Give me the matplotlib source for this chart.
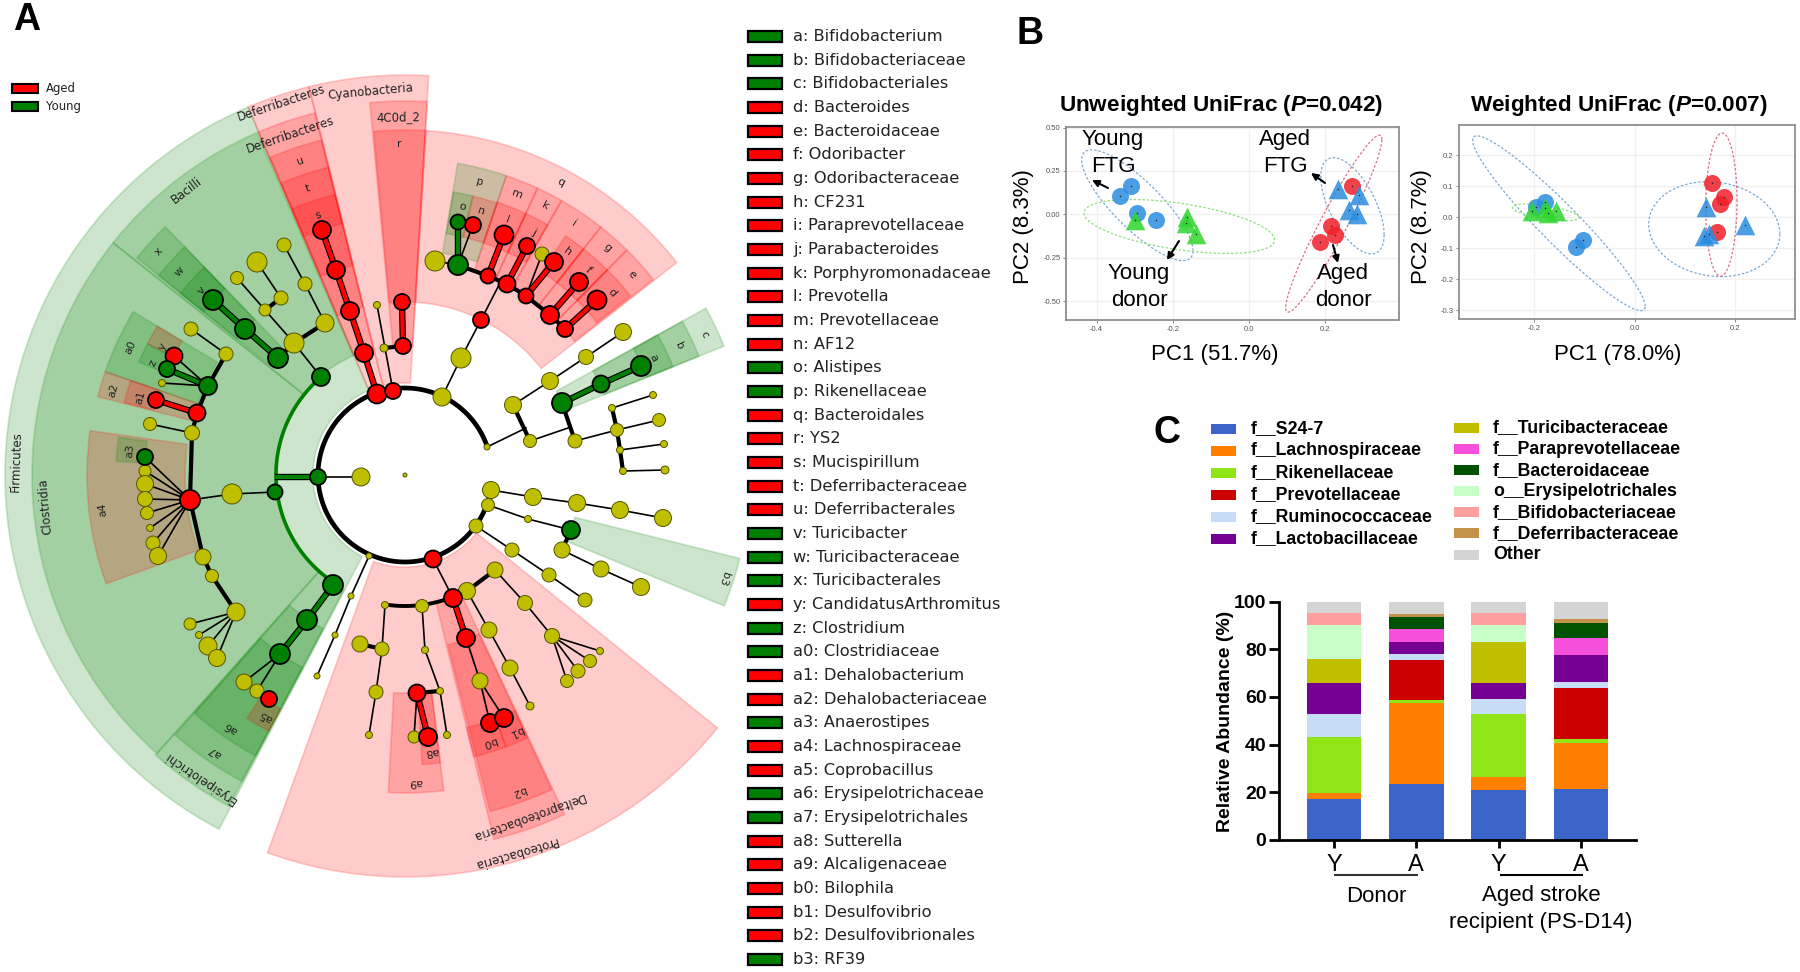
import matplotlib
matplotlib.use('Agg')
import matplotlib.pyplot as plt
import numpy as np
from matplotlib.colors import to_rgba
from matplotlib.patches import Circle, Rectangle, Wedge

W, H = 1800, 972
plt.rcParams['font.family'] = ['Liberation Sans', 'DejaVu Sans']
plt.rcParams['mathtext.fontset'] = 'custom'
plt.rcParams['mathtext.bfit'] = 'Liberation Sans:italic:bold'
plt.rcParams['mathtext.rm'] = 'Liberation Sans:bold'

# --- panel A: cladogram, pixel positions ---
CLADE_X, CLADE_Y = 405, 475
RED, GREEN, YELLOW = '#ff0000', '#008000', '#bfbf00'

# (inner r, outer r, start angle, end angle, colour)
sectors = [
    (92, 400, 113.1, 242.3, 'g'), (92, 400, 103.9, 113.1, 'r'), (92, 400, 86.6, 103.9, 'r'),
    (92, 402, 250, 321, 'r'), (173, 345, 38, 86.5, 'r'), (175, 345, -22.3, -14, 'g'),
    (173, 344, 22, 29, 'g'), (215, 317, 22, 29, 'g'), (261, 289, 22, 29, 'g'),
    (130, 373, 113.4, 141.5, 'g'), (130, 373, 141.5, 228.3, 'g'), (130, 375, 228.3, 242, 'g'),
    (174, 347, 228.5, 242, 'g'), (218, 318, 228.5, 242, 'g'), (265, 290, 237, 242, 'r'),
    (130, 373, 104, 113.2, 'r'), (173, 345, 104, 113, 'r'), (216, 317, 104, 113, 'r'), (259, 289, 104, 113, 'r'),
    (129, 374, 86.6, 95.4, 'r'), (173, 345, 86.6, 95.2, 'r'),
    (225, 316, 71.3, 80.4, 'g'), (245, 287, 76.3, 80.3, 'g'), (245, 287, 71.3, 76.3, 'r'),
    (216, 316, 65.2, 71.3, 'r'), (245, 288, 65.2, 71.3, 'r'), (216, 316, 60.3, 65.2, 'r'), (245, 288, 60.3, 65.2, 'r'),
    (216, 316, 51.7, 60.3, 'r'), (245, 288, 51.7, 56.1, 'r'), (216, 316, 45.4, 51.7, 'r'), (245, 288, 45.4, 51.7, 'r'),
    (216, 316, 38.2, 45.4, 'r'), (245, 288, 38.5, 45.4, 'r'),
    (130, 375, 283.7, 295.2, 'r'), (175, 347, 284.2, 295, 'r'), (260, 290, 283.7, 290.4, 'r'), (260, 290, 290.4, 295, 'r'),
    (218, 318, 267, 277, 'r'), (218, 290, 273.4, 277, 'r'),
    (173, 345, 134, 141, 'g'), (216, 317, 134, 141, 'g'), (259, 289, 134, 141, 'g'),
    (219, 317, 149, 161, 'g'), (260, 289, 149, 153, 'r'), (260, 289, 153, 157, 'g'),
    (219, 317, 161, 165.7, 'r'), (260, 290, 161, 165.5, 'r'),
    (220, 318, 172, 200, 'r'), (260, 289, 172.5, 177.3, 'g'),
]

# (text, r, angle, size)
clade_labels = [
    ('Firmicutes', 389, 178, 8.5), ('Clostridia', 361, 185, 8.5), ('Bacilli', 359, 127.5, 8.5),
    ('Deferribacteres', 392, 108.4, 8.5), ('Deferribacteres', 359, 108.7, 8.5),
    ('Cyanobacteria', 385, 95.2, 8.5), ('4C0d_2', 358, 91, 8.5), ('r', 331, 91, 8),
    ('u', 331, 108.5, 8), ('t', 303, 108.7, 8), ('s', 274, 108.5, 8), ('q', 331, 62, 8), ('p', 302, 75.6, 8),
    ('o', 274, 78, 8), ('n', 275, 74, 8), ('m', 302, 68.3, 8), ('k', 303, 62.5, 8), ('l', 275, 68, 8),
    ('j', 275, 62, 8), ('i', 303, 56, 8), ('h', 276, 54, 8), ('g', 304, 48.3, 8), ('f', 275, 48.2, 8),
    ('e', 303, 41.5, 8), ('d', 276, 41.3, 8), ('c', 331, 25.2, 8), ('b', 303, 25.2, 8), ('a', 275, 25.2, 8),
    ('x', 332, 137.8, 8), ('w', 304, 138, 8), ('v', 274, 137.8, 8), ('a0', 303, 155, 8), ('y', 274, 152, 8),
    ('z', 276, 156, 8), ('a2', 304, 163.8, 8), ('a1', 276, 163.8, 8), ('a3', 276, 175, 8), ('a4', 304, 186.4, 8),
    ('a5', 278, 240, 8), ('a6', 307, 235.5, 8), ('a7', 336, 235.5, 8), ('Erysipelotrichi', 366, 235.9, 8.5),
    ('a8', 278, 275.6, 8), ('a9', 307, 272, 8), ('b0', 280, 287.5, 8), ('b1', 279, 293.3, 8), ('b2', 336, 289.8, 8),
    ('Deltaproteobacteria', 363, 289.8, 8.5), ('Proteobacteria', 393, 286.3, 8.5), ('b3', 335, -18, 8),
]

yellow_nodes = [
    (405, 475, 2), (361, 477, 9), (384, 348, 4), (377, 305, 3.5), (294, 343, 10), (325, 323, 9), (265, 310, 6),
    (281, 298, 7), (237, 278, 6.5), (257, 262, 10), (305, 284, 7), (284, 245, 7), (191, 329, 7), (226, 354, 7),
    (162, 383, 3.5), (150, 424, 6.5), (192, 433, 7.5), (145, 471, 6), (145, 484, 8.5), (145, 499, 7.5),
    (147, 513, 6.5), (150, 528, 3.5), (153, 543, 7), (158, 556, 8.5), (232, 494, 10), (203, 557, 8), (212, 576, 6.5),
    (236, 612, 9), (190, 624, 6), (199, 635, 3.5), (208, 646, 9), (217, 658, 8.5), (435, 261, 10), (542, 254, 7),
    (461, 358, 10), (442, 397, 9), (623, 332, 8.5), (586, 357, 7.5), (550, 381, 8.5), (513, 405, 8.5), (487, 447, 3),
    (530, 441, 6.5), (575, 441, 7), (617, 430, 6.5), (659, 420, 6.5), (620, 450, 3.5), (664, 444, 3.5), (623, 471, 3.5),
    (665, 470, 4), (612, 408, 3.5), (653, 395, 3.5), (491, 490, 8.5), (533, 497, 8.5), (577, 503, 8.5), (620, 510, 8.5),
    (663, 518, 8.5), (488, 505, 6.5), (528, 519, 3.5), (562, 550, 8), (601, 569, 8), (641, 587, 8.5), (476, 526, 7),
    (512, 550, 7), (549, 575, 7), (585, 600, 7), (467, 591, 8.5), (495, 570, 8), (525, 603, 7.5), (552, 636, 7.5),
    (600, 651, 3.5), (590, 661, 6.5), (578, 671, 7), (567, 681, 6.5), (489, 630, 8), (510, 668, 8), (530, 706, 4),
    (480, 681, 8), (422, 606, 6.5), (385, 605, 3.5), (382, 649, 7), (360, 644, 8), (376, 692, 7), (369, 735, 3.5),
    (425, 650, 3.5), (440, 691, 3.5), (447, 735, 3.5), (414, 737, 6), (369, 556, 3), (351, 596, 3), (335, 635, 3),
    (317, 676, 3), (244, 682, 8), (257, 691, 7),
]
red_nodes = [
    (322, 230, 9), (336, 270, 9), (350, 311, 9), (364, 353, 9), (377, 394, 9.5), (393, 391, 8), (402, 302, 8),
    (403, 346, 8), (174, 356, 8.5), (156, 400, 8), (197, 413, 8.5), (190, 500, 10), (473, 225, 8), (488, 276, 7.5),
    (504, 235, 9.5), (507, 284, 8.5), (527, 246, 8), (526, 296, 7.5), (554, 262, 9), (550, 315, 9), (579, 282, 9),
    (565, 329, 8), (597, 300, 9.5), (481, 320, 8), (433, 559, 8.5), (453, 598, 9), (466, 638, 9), (490, 723, 9),
    (504, 718, 9), (417, 693, 8.5), (428, 737, 9), (269, 699, 8),
]
green_nodes = [
    (213, 300, 10), (245, 329, 10), (278, 358, 10), (321, 377, 9), (208, 386, 9), (167, 369, 8), (145, 457, 8),
    (275, 492, 7.5), (318, 477, 8), (458, 265, 10), (458, 222, 7.5), (562, 403, 10), (601, 384, 8.5), (641, 366, 10),
    (571, 530, 9), (333, 585, 10), (307, 620, 10), (280, 654, 10),
]

# (x1, y1, x2, y2)
thin_edges = [
    (321, 377, 294, 343), (294, 343, 265, 310), (265, 310, 237, 278), (281, 298, 257, 262), (325, 323, 305, 284),
    (305, 284, 284, 245), (226, 354, 191, 329), (150, 424, 192, 433), (208, 386, 174, 356), (208, 386, 162, 383),
    (190, 500, 145, 457), (190, 500, 145, 471), (190, 500, 145, 484), (190, 500, 145, 499), (190, 500, 147, 513),
    (190, 500, 150, 528), (190, 500, 153, 543), (190, 500, 158, 556), (236, 612, 190, 624), (236, 612, 199, 635),
    (236, 612, 208, 646), (236, 612, 217, 658), (190, 500, 232, 494), (232, 494, 275, 492), (318, 477, 361, 477),
    (442, 397, 461, 358), (461, 358, 481, 320), (481, 320, 500, 283), (435, 261, 458, 265), (458, 265, 473, 225),
    (526, 296, 542, 254), (487, 447, 526, 428), (530, 441, 571, 427), (575, 441, 617, 430), (612, 408, 653, 395),
    (617, 430, 659, 420), (620, 450, 664, 444), (623, 471, 665, 470), (513, 405, 550, 381), (550, 381, 586, 357),
    (586, 357, 623, 332), (491, 490, 533, 497), (533, 497, 577, 503), (577, 503, 620, 510), (620, 510, 663, 518),
    (488, 505, 528, 519), (528, 519, 571, 530), (562, 550, 601, 569), (601, 569, 641, 587), (476, 526, 512, 550),
    (512, 550, 549, 575), (549, 575, 585, 600), (433, 559, 453, 598), (466, 638, 480, 681), (480, 681, 490, 723),
    (480, 681, 504, 718), (495, 570, 525, 603), (525, 603, 552, 636), (552, 636, 600, 651), (552, 636, 590, 661),
    (552, 636, 578, 671), (552, 636, 567, 681), (467, 591, 489, 630), (489, 630, 510, 668), (510, 668, 530, 706),
    (422, 606, 425, 650), (425, 650, 440, 691), (440, 691, 447, 735), (417, 693, 414, 737), (385, 605, 382, 649),
    (382, 649, 376, 692), (376, 692, 369, 735), (369, 556, 351, 596), (351, 596, 335, 635), (335, 635, 317, 676),
    (280, 654, 244, 682), (280, 654, 257, 691), (393, 391, 377, 305),
]
thick_edges = [
    (294, 343, 325, 323), (265, 310, 281, 298), (208, 386, 226, 354), (197, 413, 208, 386), (192, 433, 197, 413),
    (192, 433, 190, 500), (190, 500, 203, 557), (203, 557, 212, 576), (212, 576, 236, 612), (458, 265, 488, 276),
    (488, 276, 507, 284), (507, 284, 526, 296), (526, 296, 550, 315), (550, 315, 565, 329), (513, 405, 530, 441),
    (562, 403, 575, 441), (612, 408, 617, 430), (617, 430, 620, 450), (620, 450, 623, 471), (571, 530, 562, 550),
    (453, 598, 467, 591), (467, 591, 495, 570), (417, 693, 440, 691), (382, 649, 360, 644), (384, 348, 403, 346),
    (278, 358, 294, 343),
]
red_edges = [
    (197, 413, 156, 400), (488, 276, 504, 235), (507, 284, 527, 246), (526, 296, 554, 262), (550, 315, 579, 282),
    (565, 329, 597, 300), (453, 598, 466, 638), (417, 693, 428, 737), (377, 394, 364, 353), (364, 353, 350, 311),
    (350, 311, 336, 270), (336, 270, 322, 230), (403, 346, 402, 302),
]
green_edges = [
    (208, 386, 167, 369), (275, 477, 318, 477), (458, 265, 458, 222), (562, 403, 601, 384), (601, 384, 641, 366),
    (333, 585, 307, 620), (307, 620, 280, 654), (278, 358, 245, 329), (245, 329, 213, 300),
]

taxa = ['a: Bifidobacterium', 'b: Bifidobacteriaceae', 'c: Bifidobacteriales', 'd: Bacteroides', 'e: Bacteroidaceae',
        'f: Odoribacter', 'g: Odoribacteraceae', 'h: CF231', 'i: Paraprevotellaceae', 'j: Parabacteroides',
        'k: Porphyromonadaceae', 'l: Prevotella', 'm: Prevotellaceae', 'n: AF12', 'o: Alistipes', 'p: Rikenellaceae',
        'q: Bacteroidales', 'r: YS2', 's: Mucispirillum', 't: Deferribacteraceae', 'u: Deferribacterales',
        'v: Turicibacter', 'w: Turicibacteraceae', 'x: Turicibacterales', 'y: CandidatusArthromitus', 'z: Clostridium',
        'a0: Clostridiaceae', 'a1: Dehalobacterium', 'a2: Dehalobacteriaceae', 'a3: Anaerostipes', 'a4: Lachnospiraceae',
        'a5: Coprobacillus', 'a6: Erysipelotrichaceae', 'a7: Erysipelotrichales', 'a8: Sutterella', 'a9: Alcaligenaceae',
        'b0: Bilophila', 'b1: Desulfovibrio', 'b2: Desulfovibrionales', 'b3: RF39']
taxa_groups = 'gggrrrrrrrrrrrggrrrrrgggrggrrgrrggrrrrrg'

# --- panel B: PCoA scores ---
uw_blue_circ = ([-0.309, -0.339, -0.293, -0.245], [0.162, 0.105, 0.011, -0.029])
uw_green_tri = ([-0.299, -0.163, -0.165, -0.138], [-0.032, -0.013, -0.05, -0.113])
uw_blue_tri = ([0.233, 0.287, 0.263, 0.284], [0.149, 0.111, 0.025, 0.002])
uw_red_circ = ([0.271, 0.214, 0.226, 0.186], [0.164, -0.067, -0.118, -0.156])
w_blue_circ = ([-0.178, -0.196, -0.102, -0.116], [0.051, 0.034, -0.073, -0.095])
w_green_tri = ([-0.204, -0.178, -0.171, -0.156], [0.022, 0.029, 0.013, 0.022])
w_blue_tri = ([0.142, 0.218, 0.148, 0.137], [0.032, -0.025, -0.054, -0.06])
w_red_circ = ([0.153, 0.178, 0.17, 0.163], [0.112, 0.065, 0.042, -0.048])
# centre x, half width, centre y, half height, correlation, colour key
uw_ellipses = [(-0.293, 0.146, 0.053, 0.319, -0.82, 'b'), (-0.183, 0.25, -0.069, 0.155, -0.5, 'g'),
               (0.271, 0.083, 0.05, 0.277, -0.6, 'b'), (0.222, 0.126, -0.053, 0.509, 0.95, 'r')]
w_ellipses = [(-0.15, 0.171, -0.019, 0.282, -0.95, 'b'), (-0.176, 0.066, 0.016, 0.027, -0.6, 'g'),
              (0.158, 0.13, -0.038, 0.153, -0.1, 'b'), (0.172, 0.031, 0.041, 0.231, 0.05, 'r')]

# --- panel C: stacked abundance ---
groups = ['Y', 'A', 'Y', 'A']
families = ['f__S24-7', 'f__Lachnospiraceae', 'f__Rikenellaceae', 'f__Prevotellaceae', 'f__Ruminococcaceae',
            'f__Lactobacillaceae', 'f__Turicibacteraceae', 'f__Paraprevotellaceae', 'f__Bacteroidaceae',
            'o__Erysipelotrichales', 'f__Bifidobacteriaceae', 'f__Deferribacteraceae', 'Other']
family_colors = ['#3b64c8', '#ff8000', '#8fe516', '#cc0000', '#c6dcf7', '#750091', '#bfbf00', '#f64fdc', '#005200',
                 '#c8ffc8', '#ff9e9e', '#c49347', '#d4d4d4']
abund_y1 = [17.3, 2.4, 23.4, 0, 9.8, 13.1, 10.1, 0, 0, 13.9, 5.4, 0, 4.7]
abund_a1 = [23.6, 33.8, 1.2, 16.7, 2.6, 5.0, 0, 5.4, 5.4, 0, 0, 1.3, 5.0]
abund_y2 = [20.8, 5.5, 26.6, 0, 6.3, 6.7, 17.3, 0, 0, 6.8, 5.2, 0, 4.8]
abund_a2 = [21.5, 19.0, 1.9, 21.2, 2.7, 11.1, 0, 7.4, 6.3, 0, 0, 1.5, 7.4]

fig = plt.figure(figsize=(W / 100, H / 100), dpi=100)


def px_axes(x0, y0, x1, y1, **kw):
    return fig.add_axes([x0 / W, 1 - y1 / H, (x1 - x0) / W, (y1 - y0) / H], **kw)


def fig_text(x, y, s, **kw):
    kw.setdefault('ha', 'center')
    kw.setdefault('va', 'center')
    fig.text(x / W, 1 - y / H, s, **kw)


canvas = px_axes(0, 0, W, H)
canvas.set_xlim(0, W)
canvas.set_ylim(0, H)
canvas.axis('off')


def flip(y):
    return H - y


def arc(r, a0, a1, color, lw):
    t = np.radians(np.linspace(a0, a1, 120))
    canvas.plot(CLADE_X + r * np.cos(t), flip(CLADE_Y) + r * np.sin(t), color=color, lw=lw,
                solid_capstyle='butt', zorder=3)


for r0, r1, a0, a1, key in sectors:
    c = RED if key == 'r' else GREEN
    canvas.add_patch(Wedge((CLADE_X, flip(CLADE_Y)), r1, a0, a1, width=r1 - r0,
                           facecolor=to_rgba(c, 0.2), edgecolor=to_rgba(c, 0.17), lw=1.3, zorder=1))

for text, r, ang, size in clade_labels:
    t = np.radians(ang)
    canvas.text(CLADE_X + r * np.cos(t), flip(CLADE_Y) + r * np.sin(t), text, rotation=ang - 90, rotation_mode='anchor',
                ha='center', va='center', fontsize=size, family='DejaVu Sans', color='#222222', zorder=2)

arc(87, 19, 350, 'black', 3.4)
arc(129, 130, 237, GREEN, 2.6)
arc(131, 261, 289, 'black', 2.8)

for x1, y1, x2, y2 in thin_edges:
    canvas.plot([x1, x2], [flip(y1), flip(y2)], color='black', lw=1.2, zorder=4)
for x1, y1, x2, y2 in thick_edges:
    canvas.plot([x1, x2], [flip(y1), flip(y2)], color='black', lw=3, zorder=4)
for edges, c in ((red_edges, RED), (green_edges, GREEN)):
    for x1, y1, x2, y2 in edges:
        canvas.plot([x1, x2], [flip(y1), flip(y2)], color='black', lw=4.6, zorder=4, solid_capstyle='butt')
        canvas.plot([x1, x2], [flip(y1), flip(y2)], color=c, lw=3, zorder=4.1, solid_capstyle='butt')

for nodes, c in ((yellow_nodes, YELLOW), (red_nodes, RED), (green_nodes, GREEN)):
    for x, y, r in nodes:
        lw = 1.3 if c != YELLOW else 0.7
        canvas.add_patch(Circle((x, flip(y)), r, facecolor=c, edgecolor='black' if c != YELLOW else '#555500',
                                lw=lw, zorder=5))

# class legend, top left
for y, c, name in ((88.5, RED, 'Aged'), (107, GREEN, 'Young')):
    canvas.add_patch(Rectangle((12, flip(y) - 4.5), 26, 9, facecolor=c, edgecolor='black', lw=1.5, zorder=5))
    canvas.text(46, flip(y), name, ha='left', va='center', fontsize=8.4, family='DejaVu Sans', color='#222222')

# taxa key
for i, (name, key) in enumerate(zip(taxa, taxa_groups)):
    y = 36.5 + i * 23.67
    canvas.add_patch(Rectangle((748, flip(y) - 5.5), 34, 11, facecolor=RED if key == 'r' else GREEN,
                               edgecolor='black', lw=1.6, zorder=5))
    canvas.text(793, flip(y), name, ha='left', va='center', fontsize=11.7, family='DejaVu Sans', color='#222222')

for x, y, s in ((27, 20, 'A'), (1030, 34, 'B'), (1167, 433, 'C')):
    fig_text(x, y, s, fontsize=27, fontweight='bold')

# --- panel B ---
PC_COLORS = {'b': '#2b8ce0', 'g': '#2fd62f', 'r': '#f0202a'}
ELLIPSE_COLORS = {'b': '#7fa8cf', 'g': '#8fdf7f', 'r': '#d9707f'}


def pcoa_panel(rect, xlim, ylim, xticks, yticks, yfmt, blue_c, green_t, blue_t, red_c, ellipses):
    ax = px_axes(*rect)
    ax.set_xlim(*xlim)
    ax.set_ylim(*ylim)
    ax.set_axisbelow(True)
    ax.set_xticks(xticks)
    ax.set_yticks(yticks)
    ax.set_xticklabels([f'{v:.1f}' for v in xticks])
    ax.set_yticklabels([yfmt.format(v) for v in yticks])
    ax.grid(True, color='#f0f0f0', lw=1.0)
    ax.tick_params(labelsize=5.5, colors='#555555', length=2, width=0.5, pad=2)
    for s in ax.spines.values():
        s.set_color('#909090')
        s.set_linewidth(1.3)
    t = np.linspace(0, 2 * np.pi, 120)
    for cx, rx, cy, ry, corr, key in ellipses:
        ax.plot(cx + rx * np.cos(t), cy + ry * np.cos(t - np.arccos(corr)), color=ELLIPSE_COLORS[key],
                lw=0.9, ls=(0, (2, 1.5)))
    ax.scatter(*blue_c, s=150, marker='o', color=PC_COLORS['b'], alpha=0.85, lw=0, zorder=4)
    ax.scatter(*red_c, s=150, marker='o', color=PC_COLORS['r'], alpha=0.85, lw=0, zorder=4)
    ax.scatter(*green_t, s=200, marker='^', color=PC_COLORS['g'], alpha=0.85, lw=0, zorder=4)
    ax.scatter(*blue_t, s=200, marker='^', color=PC_COLORS['b'], alpha=0.85, lw=0, zorder=4)
    for pts in (blue_c, red_c, green_t, blue_t):
        ax.scatter(*pts, s=1.2, color='#222222', lw=0, zorder=5)
    return ax


ax_uw = pcoa_panel((1066, 127, 1399, 320), (-0.48, 0.393), (-0.607, 0.503), [-0.4, -0.2, 0.0, 0.2],
                   [-0.5, -0.25, 0, 0.25, 0.5], '{:.2f}', uw_blue_circ, uw_green_tri, uw_blue_tri, uw_red_circ, uw_ellipses)
ax_w = pcoa_panel((1459, 125, 1795, 319), (-0.348, 0.318), (-0.328, 0.298), [-0.2, 0.0, 0.2],
                  [-0.3, -0.2, -0.1, 0, 0.1, 0.2], '{:.1f}', w_blue_circ, w_green_tri, w_blue_tri, w_red_circ, w_ellipses)

fig_text(1221, 106, r'Unweighted UniFrac ($\mathbfit{P}$=0.042)', fontsize=16.2, fontweight='bold')
fig_text(1619, 106, r'Weighted UniFrac ($\mathbfit{P}$=0.007)', fontsize=16.2, fontweight='bold')
fig_text(1215, 354, 'PC1 (51.7%)', fontsize=16)
fig_text(1618, 354, 'PC1 (78.0%)', fontsize=16)
fig_text(1023, 227, 'PC2 (8.3%)', fontsize=16, rotation=90)
fig_text(1421, 227, 'PC2 (8.7%)', fontsize=16, rotation=90)
for x, y, s in ((1113, 140, 'Young'), (1113, 166, 'FTG'), (1139, 274, 'Young'), (1139, 301, 'donor'),
                (1285, 140, 'Aged'), (1285, 166, 'FTG'), (1343, 274, 'Aged'), (1343, 301, 'donor')):
    fig_text(x, y, s, fontsize=16)
for x0, y0, x1, y1 in ((1108, 188, 1092, 180), (1179, 241, 1167, 260), (1325, 183, 1311, 173), (1333, 245, 1338, 263)):
    ax_uw.annotate('', xy=(x1 / W, 1 - y1 / H), xytext=(x0 / W, 1 - y0 / H), xycoords='figure fraction',
                   textcoords='figure fraction', arrowprops=dict(arrowstyle='-|>', color='black', lw=1.5, shrinkA=0, shrinkB=0),
                   zorder=6)

# --- panel C ---
ax_c = px_axes(1279, 601.6, 1636, 840)
ax_c.patch.set_alpha(0)
x_pos = np.arange(len(groups))
bottom = np.zeros(len(groups))
for i, color in enumerate(family_colors):
    vals = np.array([abund_y1[i], abund_a1[i], abund_y2[i], abund_a2[i]])
    ax_c.bar(x_pos, vals, 0.662, bottom=bottom, color=color)
    bottom += vals
ax_c.set_xlim(-0.668, 3.67)
ax_c.set_ylim(0, 100)
ax_c.set_yticks(range(0, 101, 20))
ax_c.set_xticks(x_pos)
ax_c.set_xticklabels(groups, fontsize=17)
ax_c.tick_params(axis='y', labelsize=14, width=2, length=7, pad=2)
ax_c.tick_params(axis='x', width=2, length=6, pad=4)
for lab in ax_c.get_yticklabels():
    lab.set_fontweight('bold')
ax_c.spines['top'].set_visible(False)
ax_c.spines['right'].set_visible(False)
ax_c.spines['left'].set_linewidth(2)
ax_c.spines['bottom'].set_linewidth(2)
fig_text(1225, 721, 'Relative Abundance (%)', fontsize=14, fontweight='bold', rotation=90)

canvas.plot([1335, 1417], [flip(875), flip(875)], color='#333333', lw=1.5)
canvas.plot([1501, 1582], [flip(875), flip(875)], color='black', lw=1.5)
fig_text(1376, 896, 'Donor', fontsize=16)
fig_text(1541, 895, 'Aged stroke', fontsize=16)
fig_text(1541, 922, 'recipient (PS-D14)', fontsize=16)

for i, (name, color) in enumerate(zip(families, family_colors)):
    if i < 6:
        y = 428.6 + i * 22
        x_box, x_text = 1211, 1251
    else:
        y = 428 + (i - 6) * 21.1
        x_box, x_text = 1453.6, 1493
    canvas.add_patch(Rectangle((x_box, flip(y) - 5), 25, 10, facecolor=color, edgecolor='none'))
    canvas.text(x_text, flip(y), name, ha='left', va='center', fontsize=12.8, fontweight='bold')

fig.savefig('out.png', dpi=100)
